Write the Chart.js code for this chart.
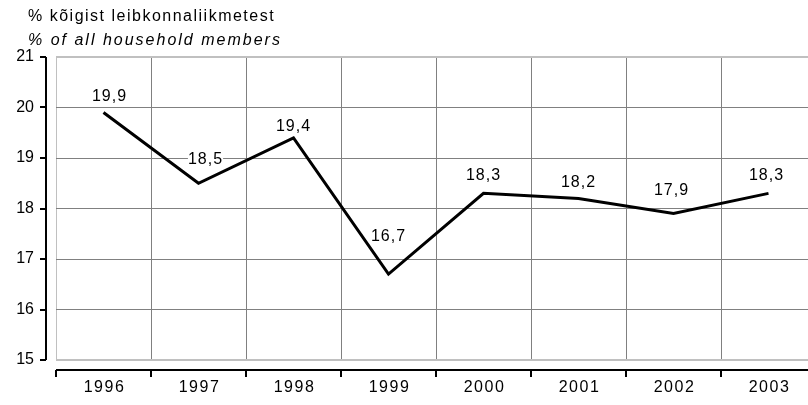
<!DOCTYPE html>
<html>
<head>
<meta charset="utf-8">
<script src="https://cdn.jsdelivr.net/npm/chart.js@4/dist/chart.umd.min.js"></script>
<style>
html,body{margin:0;padding:0;background:#fff;overflow:hidden;}
#wrap{width:816px;height:405px;position:relative;}
</style>
</head>
<body>
<div id="wrap"><canvas id="c" width="816" height="405"></canvas></div>
<script>
const years = ['1996','1997','1998','1999','2000','2001','2002','2003'];
const shares = [19.9, 18.5, 19.4, 16.7, 18.3, 18.2, 17.9, 18.3];
const valueLabels = ['19,9','18,5','19,4','16,7','18,3','18,2','17,9','18,3'];
const titleEt = '% kõigist leibkonnaliikmetest';
const titleEn = '% of all household members';

// label placement (style only): pixel offsets above each point
const labelLift = [16, 24, 11, 38, 18, 16, 23, 18];
const labelShift = [6, 7, 0, 0, 0, 0, -2, -2];

const FONT = 'Liberation Sans, Arial, sans-serif';

const decor = {
  id: 'decor',
  afterDatasetsDraw(chart) {
    const ctx = chart.ctx;
    const meta = chart.getDatasetMeta(0);
    ctx.save();
    ctx.letterSpacing = '1px';
    ctx.font = '16px ' + FONT;
    ctx.textAlign = 'center';
    ctx.textBaseline = 'middle';
    meta.data.forEach((pt, i) => {
      const x = pt.x + labelShift[i];
      const y = pt.y - labelLift[i];
      const w = ctx.measureText(valueLabels[i]).width;
      ctx.fillStyle = '#fff';
      ctx.fillRect(x - w / 2, y - 8, w, 16);
      ctx.fillStyle = '#000';
      ctx.fillText(valueLabels[i], x, y);
    });
    ctx.restore();
  },
  afterDraw(chart) {
    const ctx = chart.ctx;
    const a = chart.chartArea;
    const xs = chart.scales.x, ys = chart.scales.y;
    ctx.save();
    ctx.strokeStyle = '#000';
    ctx.lineWidth = 2;
    // y axis
    const ax = a.left - 10;
    ctx.beginPath();
    ctx.moveTo(ax, a.top); ctx.lineTo(ax, a.bottom);
    ys.ticks.forEach(t => {
      const y = Math.round(ys.getPixelForValue(t.value));
      ctx.moveTo(ax - 6, y); ctx.lineTo(ax, y);
    });
    ctx.stroke();
    // x axis
    const ay = a.bottom + 10;
    ctx.beginPath();
    ctx.moveTo(a.left, ay); ctx.lineTo(a.right, ay);
    for (let i = 0; i <= years.length; i++) {
      let x;
      if (i === 0) x = a.left;
      else if (i === years.length) x = a.right;
      else x = (xs.getPixelForValue(i - 1) + xs.getPixelForValue(i)) / 2;
      x = Math.round(x);
      ctx.moveTo(x, ay); ctx.lineTo(x, ay + 7);
    }
    ctx.stroke();
    // x category labels
    ctx.fillStyle = '#000';
    ctx.letterSpacing = '1.5px';
    ctx.font = '16px ' + FONT;
    ctx.textAlign = 'center';
    ctx.textBaseline = 'middle';
    years.forEach((yr, i) => {
      ctx.fillText(yr, xs.getPixelForValue(i) + 1, a.bottom + 28);
    });
    // titles
    ctx.textAlign = 'left';
    ctx.font = '16px ' + FONT;
    ctx.fillText(titleEt, 28, 17);
    ctx.letterSpacing = '2px';
    ctx.font = 'italic 16px ' + FONT;
    ctx.fillText(titleEn, 28, 41);
    ctx.restore();
  }
};

new Chart(document.getElementById('c'), {
  type: 'line',
  data: {
    labels: years,
    datasets: [{
      data: shares,
      borderColor: '#000',
      borderWidth: 3,
      pointRadius: 0,
      tension: 0,
      fill: false
    }]
  },
  options: {
    responsive: false,
    animation: false,
    devicePixelRatio: 1,
    layout: { padding: { top: 57, right: 0, left: 0, bottom: 0 } },
    plugins: { legend: { display: false }, tooltip: { enabled: false } },
    scales: {
      x: {
        offset: true,
        grid: {
          offset: true,
          color: (c) => c.index === 0 ? '#c0c0c0' : '#808080',
          lineWidth: 1,
          drawTicks: false
        },
        border: { display: false },
        ticks: { display: false },
        afterFit: (s) => { s.height = 45; }
      },
      y: {
        min: 15, max: 21,
        grid: {
          color: (c) => (c.tick && (c.tick.value === 15 || c.tick.value === 21)) ? '#c0c0c0' : '#808080',
          lineWidth: (c) => (c.tick && (c.tick.value === 15 || c.tick.value === 21)) ? 2 : 1,
          drawTicks: true,
          tickLength: 16,
          tickColor: 'rgba(0,0,0,0)'
        },
        border: { display: false },
        ticks: { stepSize: 1, color: '#000', font: { family: FONT, size: 16 }, padding: 6 },
        afterFit: (s) => { s.width = 56; }
      }
    }
  },
  plugins: [decor]
});
</script>
</body>
</html>
